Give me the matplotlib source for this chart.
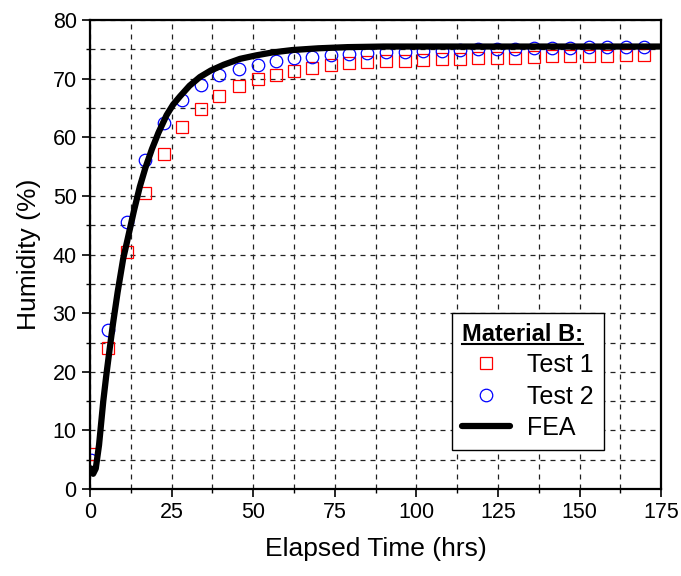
import numpy as np
import matplotlib.pyplot as plt
from matplotlib.lines import Line2D

plt.rcParams['font.family'] = ['Liberation Sans', 'DejaVu Sans']

# tiempos de medicion (hrs)
t_test = [0.3, 5.5, 11.3, 16.9, 22.7, 28.2, 34.0, 39.5, 45.6, 51.5, 57.0, 62.5,
          68.0, 73.8, 79.4, 84.9, 90.7, 96.5, 102.0, 107.9, 113.4, 118.9, 124.7,
          130.2, 136.0, 141.6, 147.1, 152.9, 158.4, 164.2, 169.8]
test1 = [6.0, 24.1, 40.4, 50.5, 57.1, 61.7, 64.8, 67.0, 68.7, 69.9, 70.7, 71.4,
         71.9, 72.3, 72.7, 72.9, 73.0, 73.1, 73.2, 73.3, 73.4, 73.5, 73.6, 73.6,
         73.7, 73.8, 73.8, 73.9, 73.9, 74.0, 74.0]
test2 = [4.9, 27.2, 45.6, 56.2, 62.5, 66.3, 68.9, 70.6, 71.6, 72.4, 73.0, 73.5,
         73.7, 74.0, 74.3, 74.4, 74.5, 74.6, 74.7, 74.8, 74.9, 75.0, 75.0, 75.1,
         75.2, 75.2, 75.3, 75.4, 75.4, 75.5, 75.5]

# curva FEA
t_fea = [0.4, 1.0, 1.8, 2.8, 4.1, 5.0, 6.1, 7.1, 8.5, 10.2, 11.5, 13.5, 15.3, 17.0,
         19.0, 21.0, 23.5, 25.5, 27.6, 30.5, 33.7, 37.0, 41.0, 46.0, 51.0, 56.0,
         62.0, 70.0, 79.0, 90.0, 175.0]
h_fea = [3.5, 2.6, 3.5, 7.5, 15.0, 19.3, 24.1, 28.3, 33.6, 39.3, 42.5, 47.5, 51.6,
         54.8, 58.0, 60.8, 63.8, 65.6, 67.0, 68.8, 70.3, 71.4, 72.4, 73.4, 74.0,
         74.5, 74.9, 75.2, 75.4, 75.5, 75.5]

fig = plt.figure(figsize=(6.81, 5.76), dpi=100)
ax = fig.add_axes([0.132, 0.151, 0.839, 0.814])

ax.plot(t_test, test1, linestyle='none', marker='s', markersize=8.5,
        markerfacecolor='none', markeredgecolor='red', markeredgewidth=0.9, label='Test 1')
ax.plot(t_test, test2, linestyle='none', marker='o', markersize=9,
        markerfacecolor='none', markeredgecolor='blue', markeredgewidth=0.9, label='Test 2')
ax.plot(t_fea, h_fea, color='black', linewidth=4.5, label='FEA', zorder=5,
        solid_capstyle='round')

ax.set_xlim(0, 175)
ax.set_ylim(0, 80)
ax.set_xticks(np.arange(0, 176, 25))
ax.set_xticks(np.arange(12.5, 175, 25), minor=True)
ax.set_yticks(np.arange(0, 81, 10))
ax.set_yticks(np.arange(5, 80, 10), minor=True)

ax.grid(True, which='both', color='#222222', linestyle=(0, (4, 4)), linewidth=0.9)
ax.set_axisbelow(True)
ax.tick_params(which='major', direction='out', length=6, width=1.2, labelsize=15.5)
ax.tick_params(which='minor', direction='out', length=3, width=1.0)
for s in ax.spines.values():
    s.set_linewidth(1.6)

ax.set_xlabel('Elapsed Time (hrs)', fontsize=19, labelpad=10)
ax.set_ylabel('Humidity (%)', fontsize=19, labelpad=8)

leg = ax.legend(loc='lower left', bbox_to_anchor=(0.634, 0.083), borderaxespad=0,
                fontsize=18, title='Material B:',
                title_fontproperties={'weight': 'bold', 'size': 17},
                frameon=True, fancybox=False, edgecolor='black', framealpha=1,
                handlelength=1.9, handletextpad=0.7, borderpad=0.4, labelspacing=0.3)
leg._legend_box.align = 'left'
leg.get_frame().set_linewidth(1.0)
leg.set_zorder(10)

# subrayado del titulo
fig.canvas.draw()
bb = leg.get_title().get_window_extent().transformed(fig.transFigure.inverted())
fig.add_artist(Line2D([bb.x0, bb.x1], [bb.y0 + 0.002, bb.y0 + 0.002],
                      transform=fig.transFigure, color='black', linewidth=1.5, zorder=11))

fig.savefig('out.png', dpi=100)
